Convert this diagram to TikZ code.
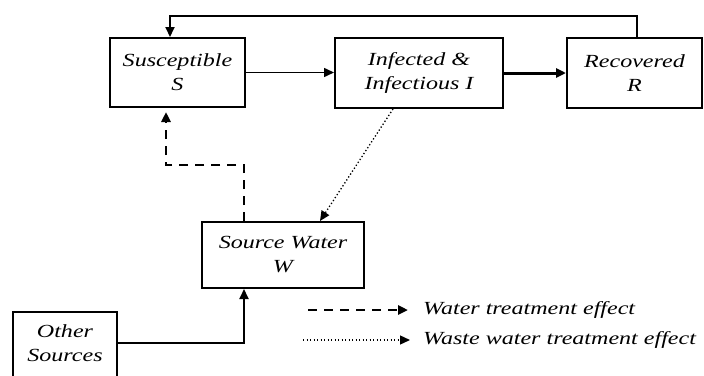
\documentclass[tikz,border=0pt]{standalone}
\usepackage{fontspec}
\setmainfont{Liberation Serif}[FakeStretch=1.3]
\usetikzlibrary{arrows.meta,calc}
\begin{document}
\begin{tikzpicture}[x=1pt,y=-1pt,
  txt/.style={font=\fontsize{18.5}{24}\selectfont\itshape},
  box/.style={draw,line width=2pt,align=center,inner sep=0pt,txt},
  lbl/.style={anchor=west,inner sep=0pt,txt},
  arr/.style={-{Triangle[length=10pt,width=9pt]}},
  conn/.style={line width=1.5pt},
  wdash/.style={line width=2.8pt,dash pattern=on 9pt off 7pt},
  wdot/.style={line width=1.3pt,dash pattern=on 1.3pt off 2.2pt}]
\useasboundingbox (0,0) rectangle (704,375);
\node[box,minimum width=135,minimum height=69] (S) at (177.5,72.5) {Susceptible\\S};
\node[box,minimum width=168,minimum height=70] (I) at (419,73) {Infected \&\\Infectious I};
\node[box,minimum width=135,minimum height=70] (R) at (634.5,73) {Recovered\\R};
\node[box,minimum width=162,minimum height=66] (W) at (283,255) {Source Water\\W};
% Other Sources box runs off the bottom edge
\node[align=center,inner sep=0pt,txt] (O) at (65,343) {Other\\Sources};
\coordinate (Otl) at (13,312);
\coordinate (Otr) at (117,312);
\draw[line width=2pt] (Otl |- 0,390) -- (Otl) -- (Otr) -- (Otr |- 0,390);
\coordinate (Oe) at (117,343);
% connectors
\draw[conn,arr] (S.east) -- (S.east -| I.west);
\draw[line width=3pt,arr] (I.east) -- (I.east -| R.west);
\coordinate (fbR) at (637,16);
\coordinate (fbS) at (170,16);
\draw[line width=2pt,arr] (fbR |- R.north) -- (fbR) -- (fbS) -- (fbS |- S.north);
\coordinate (d1) at (244,165);
\coordinate (d2) at (166,165);
\draw[wdash,arr,shorten >=4pt] (W.north -| d1) -- (d1) -- (d2) -- (d2 |- S.south);
\coordinate (t1) at (393,0);
\coordinate (t2) at (320,0);
\draw[wdot,arr] (I.south -| t1) -- (W.north -| t2);
\coordinate (o1) at (244,343);
\draw[line width=2pt,arr] (Oe) -- (o1) -- (o1 |- W.south);
% legend
\coordinate (l1a) at (308,310);
\coordinate (l1b) at (408,310);
\coordinate (l2a) at (303,340);
\coordinate (l2b) at (410,340);
\draw[wdash,arr] (l1a) -- (l1b);
\draw[wdot,arr] (l2a) -- (l2b);
\node[lbl] (L1) at (423,310) {Water treatment effect};
\node[lbl] (L2) at (423,340) {Waste water treatment effect};
\end{tikzpicture}
\end{document}
